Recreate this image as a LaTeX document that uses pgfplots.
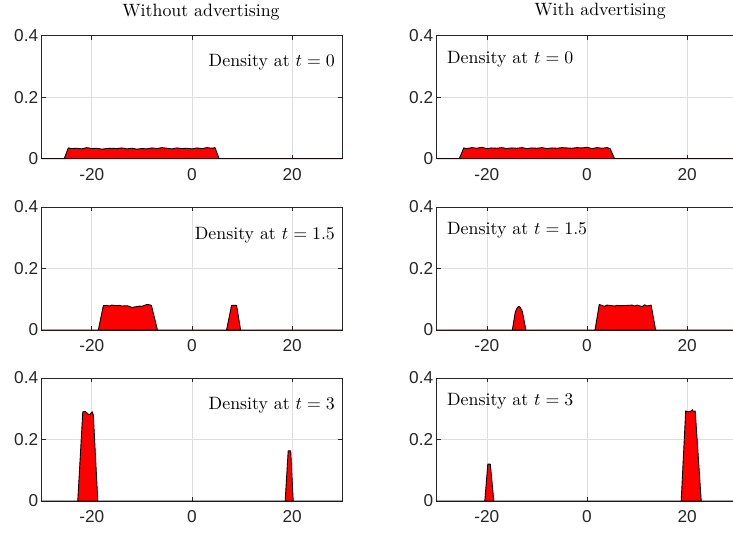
\documentclass[border=0pt]{standalone}
\usepackage{fontspec}
\usepackage{graphicx}
\usepackage{pgfplots}
\pgfplotsset{compat=1.18}
\newfontfamily\arial{Liberation Sans}
\definecolor{axgray}{RGB}{38,38,38}
\definecolor{gridgray}{RGB}{222,222,222}
\newcommand{\bigtxt}[1]{\scalebox{1.79}{\fontsize{10}{12}\selectfont #1}}
\pgfplotsset{dens/.style={
  scale only axis, width=300.6bp, height=123bp, anchor=south west,
  xmin=-30, xmax=30, ymin=0, ymax=0.4,
  xtick={-20,0,20}, xticklabels={-20,0,20},
  ytick={0,0.2,0.4}, yticklabels={0,0.2,0.4},
  grid=major, major grid style={gridgray, line width=0.6bp},
  tick align=inside, major tick length=4bp,
  tick style={axgray, line width=0.6bp},
  axis line style={axgray, line width=0.7bp},
  ticklabel style={font=\arial\fontsize{17.3}{17}\selectfont, text=axgray},
  xticklabel style={yshift=-6bp},
  clip=false,
},
dfill/.style={fill=red, draw=black, line width=0.9bp, line join=round}}
\begin{document}
\begin{tikzpicture}
\useasboundingbox (0,0) rectangle (733bp,-534bp);
\node[anchor=base, inner sep=0pt] at (201bp,-17bp) {\bigtxt{Without advertising}};
\node[anchor=base, inner sep=0pt] at (600bp,-16bp) {\bigtxt{With advertising}};
% Row 1 left
\begin{axis}[dens, at={(41.7bp,-158.7bp)}]
\addplot[dfill] coordinates {(-30,0) (-25.5,0) (-24.7,0.035) (-24,0.033) (-23,0.034) (-22,0.032) (-21,0.036) (-20,0.033) (-19,0.034) (-18,0.031) (-17,0.033) (-16,0.034) (-15,0.033) (-14,0.035) (-13,0.032) (-12,0.034) (-11,0.031) (-10,0.033) (-9,0.032) (-8,0.035) (-7,0.033) (-6,0.036) (-5,0.034) (-4,0.032) (-3,0.035) (-2,0.033) (-1,0.034) (0,0.032) (1,0.035) (2,0.033) (3,0.036) (4,0.034) (4.6,0.036) (5.4,0) (30,0)} \closedcycle;
\node[anchor=base east, inner sep=0pt] at (rel axis cs:0.976,0.748) {\bigtxt{Density at $t=0$}};
\end{axis}
% Row 1 right
\begin{axis}[dens, at={(436.7bp,-158.7bp)}]
\addplot[dfill] coordinates {(-30,0) (-25.5,0) (-24.6,0.035) (-24,0.033) (-23,0.036) (-22,0.034) (-21,0.037) (-20,0.033) (-19,0.035) (-18,0.034) (-17,0.036) (-16,0.033) (-15,0.035) (-14,0.034) (-13,0.036) (-12,0.033) (-11,0.035) (-10,0.034) (-9,0.036) (-8,0.033) (-7,0.035) (-6,0.034) (-5,0.036) (-4,0.035) (-3,0.034) (-2,0.036) (-1,0.035) (0,0.037) (1,0.033) (2,0.036) (3,0.034) (4,0.036) (4.6,0.033) (5.5,0) (30,0)} \closedcycle;
\node[anchor=base west, inner sep=0pt] at (rel axis cs:0.034,0.776) {\bigtxt{Density at $t=0$}};
\end{axis}
% Row 2 left
\begin{axis}[dens, at={(41.7bp,-330bp)}]
\addplot[dfill] coordinates {(-30,0) (-18.7,0) (-17.7,0.079) (-17,0.08) (-16.5,0.078) (-16,0.081) (-15,0.079) (-14.5,0.08) (-14,0.078) (-13,0.079) (-12.5,0.077) (-12,0.073) (-11.5,0.075) (-11,0.076) (-10.5,0.078) (-10,0.077) (-9.5,0.08) (-9,0.083) (-8.5,0.082) (-8.1,0.08) (-6.9,0) (6.9,0) (7.9,0.08) (8.9,0.08) (9.7,0) (30,0)} \closedcycle;
\node[anchor=base east, inner sep=0pt] at (rel axis cs:0.976,0.737) {\bigtxt{Density at $t=1.5$}};
\end{axis}
% Row 2 right
\begin{axis}[dens, at={(436.7bp,-330bp)}]
\addplot[dfill] coordinates {(-30,0) (-14.9,0) (-14.3,0.06) (-13.9,0.073) (-13.6,0.077) (-13.3,0.073) (-12.9,0.06) (-12.2,0) (1.6,0) (2.45,0.083) (3,0.08) (3.5,0.077) (4,0.081) (5,0.079) (5.5,0.078) (6,0.08) (7,0.079) (8,0.08) (9,0.081) (9.5,0.078) (10,0.081) (11,0.076) (11.5,0.082) (12,0.078) (12.8,0.081) (13.7,0) (30,0)} \closedcycle;
\node[anchor=base west, inner sep=0pt] at (rel axis cs:0.034,0.78) {\bigtxt{Density at $t=1.5$}};
\end{axis}
% Row 3 left
\begin{axis}[dens, at={(41.7bp,-501bp)}]
\addplot[dfill] coordinates {(-30,0) (-22.8,0) (-21.8,0.29) (-21.3,0.291) (-20.9,0.285) (-20.5,0.28) (-20.1,0.287) (-19.9,0.29) (-19.7,0.28) (-18.8,0) (18.6,0) (19.2,0.163) (19.7,0.163) (20.2,0) (30,0)} \closedcycle;
\node[anchor=base east, inner sep=0pt] at (rel axis cs:0.976,0.746) {\bigtxt{Density at $t=3$}};
\end{axis}
% Row 3 right
\begin{axis}[dens, at={(436.7bp,-501bp)}]
\addplot[dfill] coordinates {(-30,0) (-20.4,0) (-19.8,0.12) (-19.3,0.12) (-18.6,0) (18.8,0) (19.7,0.293) (20.2,0.29) (20.7,0.292) (21.0,0.297) (21.3,0.29) (21.6,0.293) (22.8,0) (30,0)} \closedcycle;
\node[anchor=base west, inner sep=0pt] at (rel axis cs:0.034,0.775) {\bigtxt{Density at $t=3$}};
\end{axis}
\end{tikzpicture}
\end{document}
